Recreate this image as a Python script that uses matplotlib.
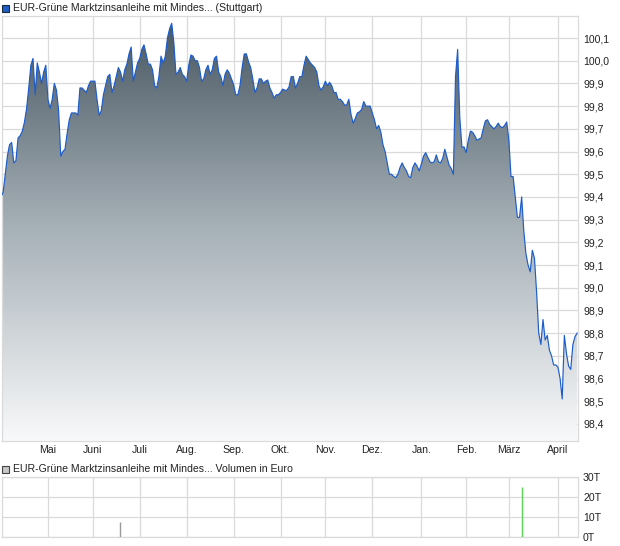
import numpy as np
import pandas as pd
import matplotlib
matplotlib.use("Agg")
import matplotlib.pyplot as plt
from matplotlib.colors import LinearSegmentedColormap
from matplotlib.patches import Rectangle

plt.rcParams['font.family'] = ['Liberation Sans', 'DejaVu Sans']

# Schlusskurse (Stuttgart), ein Wert pro Handelstag ab 01.04.2021
kurs = [
    99.40, 99.42, 99.50, 99.58, 99.63, 99.64, 99.55, 99.56, 99.66, 99.67,
    99.69, 99.73, 99.79, 99.88, 99.98, 100.01, 99.85, 99.99, 99.95, 99.90,
    99.95, 99.98, 99.83, 99.79, 99.83, 99.90, 99.87, 99.78, 99.58, 99.60,
    99.61, 99.68, 99.74, 99.77, 99.77, 99.77, 99.76, 99.88, 99.88, 99.87,
    99.86, 99.89, 99.91, 99.91, 99.91, 99.83, 99.76, 99.78, 99.85, 99.89,
    99.93, 99.94, 99.86, 99.89, 99.93, 99.97, 99.95, 99.91, 99.96, 99.985,
    100.03, 100.06, 99.91, 99.95, 99.99, 100.01, 100.05, 100.07, 100.03, 99.985,
    99.985, 99.96, 99.89, 99.88, 99.93, 100.02, 99.99, 100.02, 100.10, 100.14,
    100.165, 100.08, 99.94, 99.95, 99.97, 99.94, 99.93, 99.91, 99.98, 100.025,
    100.02, 100.00, 100.00, 99.97, 99.91, 99.92, 99.96, 99.98, 99.94, 99.96,
    100.01, 100.02, 99.95, 99.93, 99.89, 99.94, 99.96, 99.945, 99.92, 99.895,
    99.85, 99.85, 99.89, 99.97, 100.03, 100.03, 99.995, 99.97, 99.92, 99.86,
    99.88, 99.92, 99.92, 99.90, 99.91, 99.915, 99.88, 99.86, 99.835, 99.85,
    99.85, 99.86, 99.875, 99.87, 99.87, 99.885, 99.93, 99.93, 99.88, 99.90,
    99.93, 99.93, 99.98, 100.02, 100.005, 99.99, 99.98, 99.97, 99.95, 99.89,
    99.87, 99.885, 99.91, 99.89, 99.905, 99.89, 99.86, 99.86, 99.83, 99.83,
    99.82, 99.805, 99.805, 99.83, 99.765, 99.725, 99.745, 99.77, 99.775, 99.785,
    99.82, 99.80, 99.80, 99.80, 99.77, 99.74, 99.70, 99.715, 99.685, 99.63,
    99.60, 99.55, 99.50, 99.50, 99.49, 99.485, 99.50, 99.53, 99.55, 99.53,
    99.515, 99.49, 99.485, 99.53, 99.55, 99.535, 99.515, 99.545, 99.58, 99.595,
    99.575, 99.555, 99.55, 99.555, 99.585, 99.555, 99.55, 99.57, 99.61, 99.575,
    99.54, 99.525, 99.50, 99.93, 100.05, 99.75, 99.62, 99.62, 99.595, 99.65,
    99.69, 99.685, 99.67, 99.65, 99.655, 99.66, 99.70, 99.735, 99.74, 99.72,
    99.71, 99.70, 99.71, 99.725, 99.71, 99.705, 99.715, 99.73, 99.65, 99.49,
    99.49, 99.40, 99.31, 99.31, 99.40, 99.25, 99.15, 99.10, 99.07, 99.165,
    99.13, 98.98, 98.80, 98.75, 98.86, 98.77, 98.79, 98.725, 98.70, 98.66,
    98.66, 98.65, 98.60, 98.51, 98.79, 98.71, 98.655, 98.64, 98.75, 98.785, 98.80,
]
monate = ['Mai', 'Juni', 'Juli', 'Aug.', 'Sep.', 'Okt.', 'Nov.', 'Dez.',
          'Jan.', 'Feb.', 'März', 'April']
kurs_ticks = [98.4, 98.5, 98.6, 98.7, 98.8, 98.9, 99.0, 99.1, 99.2,
              99.3, 99.4, 99.5, 99.6, 99.7, 99.8, 99.9, 100.0, 100.1]

# Umsatz in Euro
vol_tage = ['2021-06-18', '2022-03-09']
vol_werte = [7600, 24800]
vol_ticks = [0, 10000, 20000, 30000]
vol_labels = ['0T', '10T', '20T', '30T']

titel = 'EUR-Grüne Marktzinsanleihe mit Mindes... (Stuttgart)'
titel_vol = 'EUR-Grüne Marktzinsanleihe mit Mindes... Volumen in Euro'

# Datumsachse: Handelstage
tage = pd.bdate_range('2021-04-01', periods=len(kurs))
idx = np.arange(len(kurs))
monat = pd.Series(tage.month)
monat_start = np.where(monat.diff().fillna(0) != 0)[0]

W, H = 620, 546
fig = plt.figure(figsize=(W / 100, H / 100), dpi=100)
grid_col = '#dadada'
txt_col = '#222222'
fs = 7.6
xlim = (0.47, 270.4)

# --- Kurschart ---
ax = fig.add_axes([2 / W, 1 - 441 / H, 576 / W, 425 / H])
ymin, ymax = 98.325, 100.197
ax.set_xlim(*xlim)
ax.set_ylim(ymin, ymax)

cmap = LinearSegmentedColormap.from_list('verlauf', ['#f8f9fa', '#a7b1b8', '#46555f'])
poly = ax.fill_between(idx, kurs, ymin, color='none', lw=0)
grad = np.linspace(0, 1, 256).reshape(-1, 1)
img = ax.imshow(grad, cmap=cmap, origin='lower', aspect='auto',
                extent=[xlim[0], xlim[1], ymin, ymax], zorder=2)
img.set_clip_path(poly.get_paths()[0], transform=ax.transData)
ax.plot(idx, kurs, color='#1c5ccc', lw=0.85, zorder=3)

ax.set_yticks(kurs_ticks)
ax.set_yticklabels([f'{v:.1f}'.replace('.', ',') for v in kurs_ticks])
ax.yaxis.tick_right()
ax.set_xticks(monat_start)
ax.set_xticklabels(monate)
ax.tick_params(axis='both', length=0, labelsize=fs, colors=txt_col)
ax.tick_params(axis='y', pad=3.6)
ax.tick_params(axis='x', pad=3)
ax.grid(True, color=grid_col, lw=0.9)
ax.set_axisbelow(True)
for s in ax.spines.values():
    s.set_color(grid_col)
    s.set_linewidth(0.9)

# --- Umsatzchart ---
av = fig.add_axes([2 / W, 1 - 537 / H, 576 / W, 60 / H])
av.set_xlim(*xlim)
av.set_ylim(0, 30000)
vol_pos = [tage.get_loc(pd.Timestamp(t)) for t in vol_tage]
av.vlines(vol_pos, 0, vol_werte, colors=['#9a9a9a', '#5ad25a'], lw=1.0, zorder=3)
av.set_yticks(vol_ticks)
av.set_yticklabels(vol_labels)
av.yaxis.tick_right()
av.set_xticks(monat_start)
av.set_xticklabels([])
av.tick_params(axis='both', length=0, labelsize=fs, colors=txt_col)
av.tick_params(axis='y', pad=3.6)
av.grid(True, color=grid_col, lw=0.9)
av.set_axisbelow(True)
for s in av.spines.values():
    s.set_color(grid_col)
    s.set_linewidth(0.9)

# --- Titelzeilen mit Symbol ---
fig.patches.append(Rectangle((2 / W, 1 - 12 / H), 7 / W, 7 / H, transform=fig.transFigure,
                             facecolor='#1f5fc4', edgecolor='#1a2a40', lw=0.8))
fig.text(13 / W, 1 - 8 / H, titel, fontsize=fs, color=txt_col, va='center', ha='left')
fig.patches.append(Rectangle((2 / W, 1 - 473 / H), 7 / W, 7 / H, transform=fig.transFigure,
                             facecolor='#c8c8c8', edgecolor='#444444', lw=0.8))
fig.text(13 / W, 1 - 469 / H, titel_vol, fontsize=fs, color=txt_col, va='center', ha='left')

fig.savefig('out.png', dpi=100)
